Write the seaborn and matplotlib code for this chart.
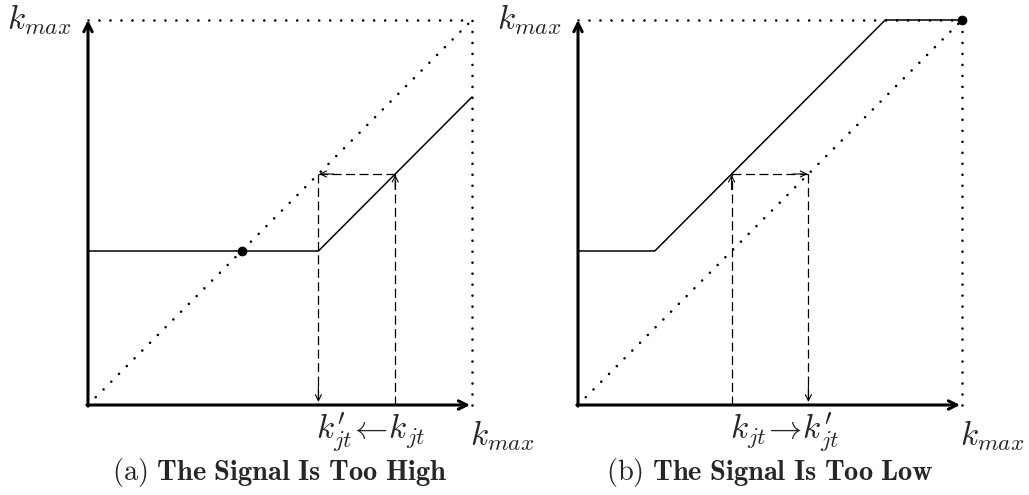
import matplotlib
matplotlib.use("Agg")
import matplotlib.pyplot as plt
import seaborn as sns

# signal response curves (k_max scaled to 10)
k_max = 10
high_x = [0, 6, 10]
high_y = [4, 4, 8]
high_dot = [4, 4]
low_x = [0, 2, 8, 10]
low_y = [4, 4, 10, 10]
low_dot = [10, 10]
# k_jt -> k'_jt moves, and the level they meet at
high_move = [8, 6]
low_move = [4, 6]
move_level = 6
captions = [r"$\mathrm{(a)}\ \mathbf{The\ Signal\ Is\ Too\ High}$",
            r"$\mathrm{(b)}\ \mathbf{The\ Signal\ Is\ Too\ Low}$"]
move_labels = [r"$k_{jt}^{\prime}\!\leftarrow\! k_{jt}$",
               r"$k_{jt}\!\rightarrow\! k_{jt}^{\prime}$"]

sns.set_theme(style="white")
plt.rcParams["mathtext.fontset"] = "cm"
plt.rcParams["font.family"] = ["DejaVu Serif"]
plt.rcParams["lines.scale_dashes"] = False

fig = plt.figure(figsize=(10.29, 4.95), dpi=100)
W, H = 1029.0, 495.0
ax1 = fig.add_axes([88 / W, 90 / H, 384 / W, 385 / H])
ax2 = fig.add_axes([578 / W, 90 / H, 384 / W, 385 / H])

dots = (0, (0.01, 7.9))
dash = (0, (6.5, 3.2))


def small_arrow(ax, x0, y0, x1, y1):
    ax.annotate("", xy=(x1, y1), xytext=(x0, y0),
                arrowprops=dict(arrowstyle="->", lw=0.8, color="black",
                                mutation_scale=11, shrinkA=0, shrinkB=0),
                annotation_clip=False)


def panel(ax, xs, ys, dot, move, label, caption):
    ax.set_xlim(0, k_max)
    ax.set_ylim(0, k_max)
    ax.axis("off")
    # dotted box and 45 degree line
    for px, py in [([0, k_max], [0, k_max]), ([0, k_max], [k_max, k_max]),
                   ([k_max, k_max], [0, k_max])]:
        ax.plot(px, py, color="black", lw=1.9, linestyle=dots,
                dash_capstyle="round", clip_on=False)
    sns.lineplot(x=xs, y=ys, sort=False, color="black", lw=1.1, ax=ax,
                 estimator=None)
    ax.lines[-1].set_clip_on(False)
    ax.plot(dot[0], dot[1], "o", color="black", ms=6, clip_on=False)
    k, k2 = move
    lvl = move_level
    ax.plot([k, k], [0, lvl], color="black", lw=0.9, linestyle=dash)
    ax.plot([k, k2], [lvl, lvl], color="black", lw=0.9, linestyle=dash)
    ax.plot([k2, k2], [lvl, 0], color="black", lw=0.9, linestyle=dash)
    small_arrow(ax, k, lvl - 0.4, k, lvl - 0.02)
    d = 0.4 if k > k2 else -0.4
    small_arrow(ax, k2 + d, lvl, k2 + d * 0.05, lvl)
    small_arrow(ax, k2, 0.5, k2, 0.08)
    # axes
    ax.annotate("", xy=(0, k_max), xytext=(0, -0.03),
                arrowprops=dict(arrowstyle="->", lw=2.2, color="black",
                                mutation_scale=15, shrinkA=0, shrinkB=0),
                annotation_clip=False)
    ax.annotate("", xy=(k_max - 0.05, 0), xytext=(-0.03, 0),
                arrowprops=dict(arrowstyle="->", lw=2.2, color="black",
                                mutation_scale=15, shrinkA=0, shrinkB=0),
                annotation_clip=False)
    ax.text(-0.42, k_max, r"$k_{max}$", ha="right", va="center", fontsize=24)
    ax.text(k_max - 0.05, -0.8, r"$k_{max}$", ha="left", va="center", fontsize=24)
    ax.text(min(k, k2) - 0.05, -0.7, label, ha="left", va="center", fontsize=24)
    ax.text(k_max / 2, -1.75, caption, ha="center", va="center", fontsize=20.5)


panel(ax1, high_x, high_y, high_dot, high_move, move_labels[0], captions[0])
panel(ax2, low_x, low_y, low_dot, low_move, move_labels[1], captions[1])

fig.savefig("out.png", dpi=100)
